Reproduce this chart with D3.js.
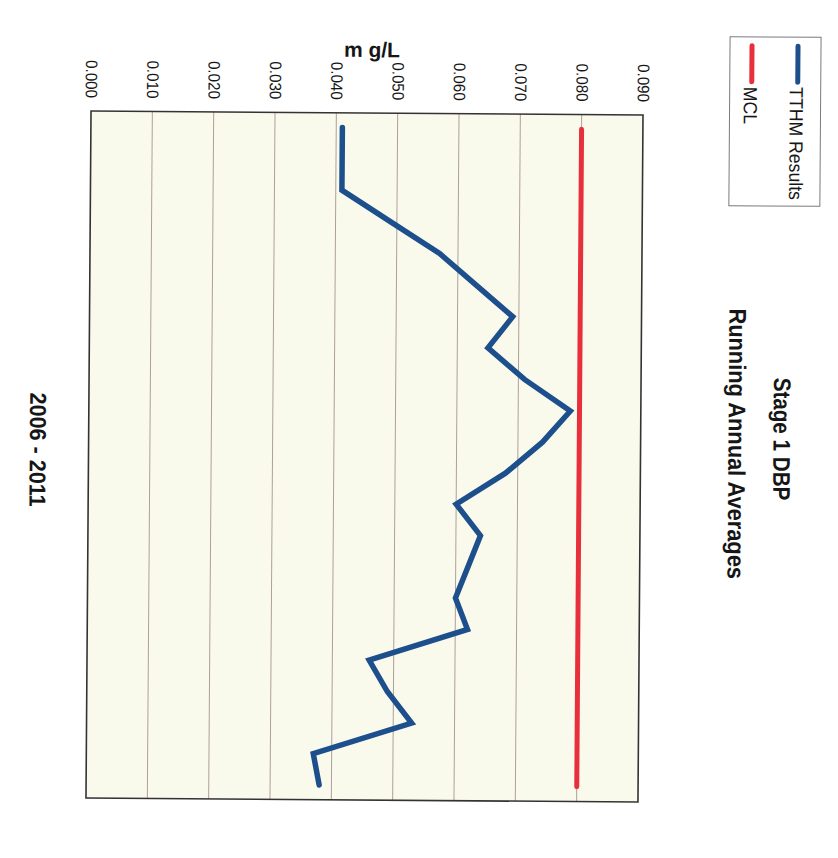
<!DOCTYPE html>
<html>
<head>
<meta charset="utf-8">
<script src="https://cdn.jsdelivr.net/npm/d3@7"></script>
<style>
  body { margin: 0; background: #ffffff; }
  svg { display: block; font-family: "Liberation Sans", Arial, sans-serif; }
</style>
</head>
<body>
<svg id="chart" width="838" height="858"></svg>
<script>
// Quarterly sampling periods, 2006 through mid-2011
const quarters = [
  "2006 Q1", "2006 Q2", "2006 Q3", "2006 Q4",
  "2007 Q1", "2007 Q2", "2007 Q3", "2007 Q4",
  "2008 Q1", "2008 Q2", "2008 Q3", "2008 Q4",
  "2009 Q1", "2009 Q2", "2009 Q3", "2009 Q4",
  "2010 Q1", "2010 Q2", "2010 Q3", "2010 Q4",
  "2011 Q1", "2011 Q2"
];

// TTHM running annual averages (mg/L)
const tthmResults = [
  0.041, 0.041, 0.041, 0.049, 0.057, 0.063, 0.069, 0.065,
  0.071, 0.0785, 0.074, 0.068, 0.060, 0.064, 0.062, 0.060,
  0.062, 0.046, 0.049, 0.053, 0.037, 0.038
];

// Maximum contaminant level (mg/L)
const mclLimit = [
  0.080, 0.080, 0.080, 0.080, 0.080, 0.080, 0.080, 0.080,
  0.080, 0.080, 0.080, 0.080, 0.080, 0.080, 0.080, 0.080,
  0.080, 0.080, 0.080, 0.080, 0.080, 0.080
];

const valueTicks = [0.000, 0.010, 0.020, 0.030, 0.040, 0.050, 0.060, 0.070, 0.080, 0.090];

const titleLines = ["Stage 1 DBP", "Running Annual Averages"];
const periodLabel = "2006 - 2011";
const unitLabel = "m g/L";
const seriesNames = ["TTHM Results", "MCL"];
const seriesColors = ["#1d4f8c", "#e8303c"];

// The chart is laid out turned a quarter-turn clockwise:
// concentration runs left-to-right, time runs top-to-bottom.
const plot = { left: 88.5, right: 640.5, top: 113, bottom: 800 };

const svg = d3.select("#chart");
const root = svg.append("g").attr("transform", "rotate(0.42 364 456)");

const x = d3.scaleLinear().domain([0, 0.09]).range([plot.left, plot.right]);
const y = d3.scalePoint().domain(quarters).range([plot.top, plot.bottom]).padding(0.47);

// Text that reads downward; sx narrows the glyphs along the reading direction.
function downText(parent, px, py, str, opts) {
  const o = Object.assign({ size: 16, weight: "normal", sx: 1, anchor: "middle" }, opts);
  return parent.append("text")
    .attr("transform", `translate(${px},${py}) rotate(90) scale(${o.sx},1)`)
    .attr("text-anchor", o.anchor)
    .attr("dy", "0.36em")
    .attr("font-size", o.size)
    .attr("font-weight", o.weight)
    .attr("fill", "#161616")
    .text(str);
}

// plot background
root.append("rect")
  .attr("x", plot.left).attr("y", plot.top)
  .attr("width", plot.right - plot.left).attr("height", plot.bottom - plot.top)
  .attr("fill", "#fafaec");

// gridlines
root.append("g")
  .selectAll("line")
  .data(valueTicks.slice(1, -1))
  .join("line")
  .attr("x1", d => x(d)).attr("x2", d => x(d))
  .attr("y1", plot.top).attr("y2", plot.bottom)
  .attr("stroke", "#ad9f9c")
  .attr("stroke-width", 1);

// frame
root.append("rect")
  .attr("x", plot.left).attr("y", plot.top)
  .attr("width", plot.right - plot.left).attr("height", plot.bottom - plot.top)
  .attr("fill", "none")
  .attr("stroke", "#333333")
  .attr("stroke-width", 1.6);

// value axis along the top, labels turned to read downward
const axis = root.append("g")
  .attr("transform", `translate(0,${plot.top})`)
  .call(d3.axisTop(x).tickValues(valueTicks).tickFormat(d3.format(".3f")).tickSize(0));
axis.select(".domain").remove();
axis.selectAll("text")
  .attr("x", null).attr("y", null)
  .attr("dy", "0.36em")
  .attr("text-anchor", "end")
  .attr("transform", `translate(0,${100 - plot.top}) rotate(90) scale(0.92,1)`)
  .attr("font-family", "'Liberation Sans', Arial, sans-serif")
  .attr("font-size", 16.5)
  .attr("fill", "#161616");

// unit label
root.append("text")
  .attr("x", 369).attr("y", 57)
  .attr("text-anchor", "middle")
  .attr("font-size", 21).attr("font-weight", "bold")
  .attr("fill", "#161616")
  .text(unitLabel);

// series
const line = d3.line()
  .x(d => x(d.v))
  .y(d => y(d.q));

root.append("path")
  .datum(quarters.map((q, i) => ({ q, v: mclLimit[i] })))
  .attr("d", line)
  .attr("fill", "none")
  .attr("stroke", seriesColors[1])
  .attr("stroke-width", 5)
  .attr("stroke-linecap", "round");

root.append("path")
  .datum(quarters.map((q, i) => ({ q, v: tthmResults[i] })))
  .attr("d", line)
  .attr("fill", "none")
  .attr("stroke", seriesColors[0])
  .attr("stroke-width", 5.5)
  .attr("stroke-linejoin", "miter")
  .attr("stroke-linecap", "round");

// title, two lines, reading downward
downText(root, 782, 436, titleLines[0], { size: 24, weight: "bold", sx: 0.86 });
downText(root, 737, 441, titleLines[1], { size: 24, weight: "bold", sx: 0.91 });

// period label
downText(root, 38, 452, periodLabel, { size: 23, weight: "bold", sx: 0.94 });

// legend
const legend = root.append("g");
legend.append("rect")
  .attr("x", 727).attr("y", 34).attr("width", 91).attr("height", 169)
  .attr("fill", "#ffffff")
  .attr("stroke", "#7a7a7a").attr("stroke-width", 1);

const legendX = [795, 749];
seriesNames.forEach((name, i) => {
  legend.append("line")
    .attr("x1", legendX[i]).attr("x2", legendX[i])
    .attr("y1", 43).attr("y2", 79)
    .attr("stroke", seriesColors[i])
    .attr("stroke-width", 5)
    .attr("stroke-linecap", "round");
  downText(legend, legendX[i] - 1, 84, name, { size: 19, sx: 0.93, anchor: "start" });
});
</script>
</body>
</html>
